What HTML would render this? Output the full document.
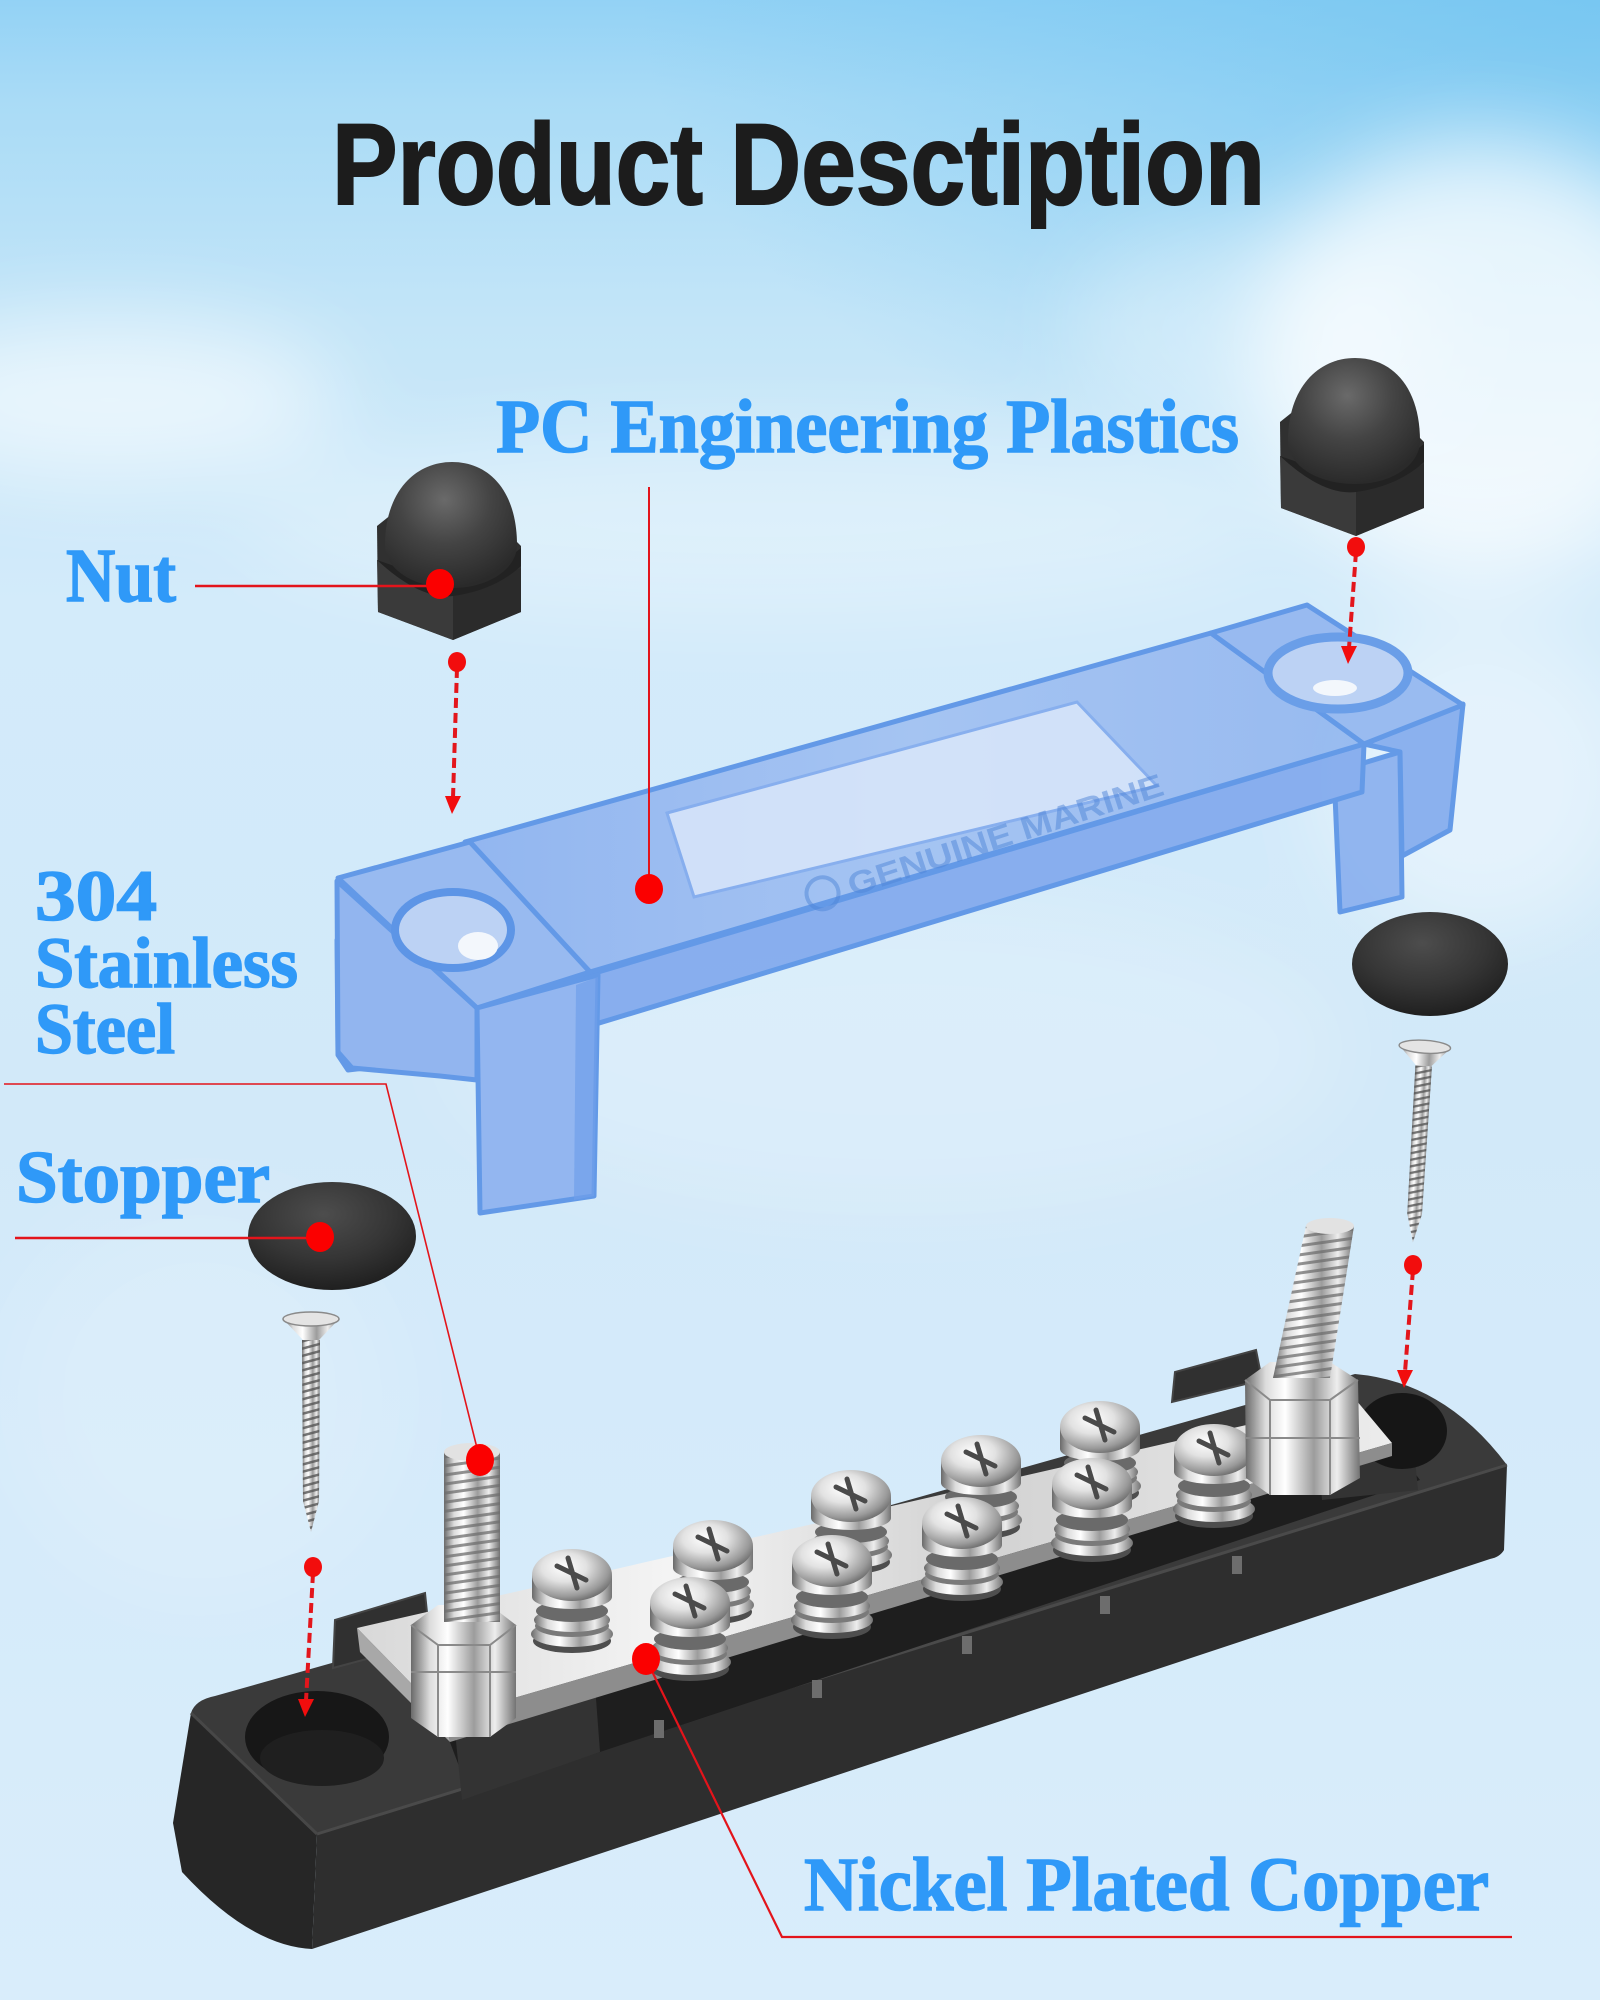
<!DOCTYPE html>
<html>
<head>
<meta charset="utf-8">
<style>
html,body{margin:0;padding:0;background:#d6ebfa;}
svg{display:block;}
.lbl{font-family:"Liberation Serif",serif;font-weight:bold;fill:#2f99f8;stroke:#2f99f8;stroke-width:1.5;}
</style>
</head>
<body>
<svg width="1600" height="2000" viewBox="0 0 1600 2000" xmlns="http://www.w3.org/2000/svg">
<defs>
  <linearGradient id="sky" x1="0" y1="0" x2="0" y2="1">
    <stop offset="0" stop-color="#93d2f5"/>
    <stop offset="0.05" stop-color="#a9dbf6"/>
    <stop offset="0.16" stop-color="#c3e5f8"/>
    <stop offset="0.3" stop-color="#d3ebfa"/>
    <stop offset="0.55" stop-color="#d2e9f9"/>
    <stop offset="1" stop-color="#d9edfb"/>
  </linearGradient>
  <radialGradient id="trsky" cx="1" cy="0" r="0.6">
    <stop offset="0" stop-color="#6cc2f0" stop-opacity="0.7"/>
    <stop offset="1" stop-color="#6cc2f0" stop-opacity="0"/>
  </radialGradient>
  <filter id="blur" x="-50%" y="-50%" width="200%" height="200%"><feGaussianBlur stdDeviation="45"/></filter>
  <radialGradient id="domeN" cx="0.45" cy="0.3" r="0.7">
    <stop offset="0" stop-color="#6a6a6a"/>
    <stop offset="0.5" stop-color="#444"/>
    <stop offset="1" stop-color="#2a2a2a"/>
  </radialGradient>
  <radialGradient id="stopG" cx="0.45" cy="0.3" r="0.75">
    <stop offset="0" stop-color="#4d4d4d"/>
    <stop offset="0.55" stop-color="#353535"/>
    <stop offset="1" stop-color="#1c1c1c"/>
  </radialGradient>
  <linearGradient id="silverH" x1="0" y1="0" x2="1" y2="0">
    <stop offset="0" stop-color="#6a6a6a"/>
    <stop offset="0.18" stop-color="#dcdcdc"/>
    <stop offset="0.35" stop-color="#ffffff"/>
    <stop offset="0.6" stop-color="#9c9c9c"/>
    <stop offset="0.8" stop-color="#eeeeee"/>
    <stop offset="1" stop-color="#737373"/>
  </linearGradient>
  <radialGradient id="domeS" cx="0.4" cy="0.35" r="0.7">
    <stop offset="0" stop-color="#ffffff"/>
    <stop offset="0.4" stop-color="#e2e2e2"/>
    <stop offset="0.8" stop-color="#9a9a9a"/>
    <stop offset="1" stop-color="#676767"/>
  </radialGradient>
  <linearGradient id="barG" x1="0" y1="0" x2="1" y2="0">
    <stop offset="0" stop-color="#d8d8d8"/>
    <stop offset="0.3" stop-color="#f4f4f4"/>
    <stop offset="0.6" stop-color="#d2d2d2"/>
    <stop offset="1" stop-color="#ececec"/>
  </linearGradient>
  <linearGradient id="topB" x1="0" y1="0" x2="1" y2="0">
    <stop offset="0" stop-color="#8fb4f0"/>
    <stop offset="0.5" stop-color="#a3c2f2"/>
    <stop offset="1" stop-color="#94b8f0"/>
  </linearGradient>
  <pattern id="thr" width="12" height="9" patternUnits="userSpaceOnUse" patternTransform="rotate(-8)">
    <rect y="0" width="12" height="3" fill="#6d6d6d" opacity="0.75"/>
  </pattern>
  <pattern id="thr2" width="10" height="7" patternUnits="userSpaceOnUse" patternTransform="rotate(-15)">
    <rect y="0" width="10" height="2.5" fill="#555" opacity="0.8"/>
  </pattern>
  <g id="ts">
    <ellipse cx="0" cy="66" rx="39" ry="12" fill="#4e4e4e"/>
    <ellipse cx="0" cy="59" rx="41" ry="13" fill="url(#silverH)"/>
    <ellipse cx="0" cy="51" rx="37" ry="11" fill="#7a7a7a"/>
    <ellipse cx="0" cy="45" rx="38" ry="12" fill="url(#silverH)"/>
    <ellipse cx="0" cy="36" rx="36" ry="11" fill="#6a6a6a"/>
    <path d="M-40,0 L-40,22 A40,12 0 0 0 40,22 L40,0 Z" fill="url(#silverH)"/>
    <ellipse cx="0" cy="0" rx="40" ry="26" fill="url(#domeS)"/>
    <path d="M-15,-9 L14,5 M-4,-17 L5,13" stroke="#4a4a4a" stroke-width="5" stroke-linecap="round"/>
  </g>
  <g id="ws">
    <path d="M-28,3 Q0,-4 28,3 L8,24 L-8,24 Z" fill="url(#silverH)"/>
    <ellipse cx="0" cy="3" rx="28" ry="7" fill="#e4e4e4" stroke="#8a8a8a" stroke-width="1.5"/>
    <path d="M-9,24 L9,24 L8,185 L0,216 L-8,185 Z" fill="url(#silverH)"/>
    <path d="M-9,24 L9,24 L8,185 L0,216 L-8,185 Z" fill="url(#thr2)"/>
  </g>
  <g id="acorn">
    <path d="M377,526 L392,514 L505,530 L521,546 L521,612 L453,640 L378,612 Z" fill="#303030"/>
    <path d="M453,596 L453,640 L378,612 L377,560 Z" fill="#3a3a3a"/>
    <path d="M453,596 L521,568 L521,612 L453,640 Z" fill="#2b2b2b"/>
    <path d="M377,560 Q420,600 453,596 Q495,590 521,566 L521,548 Q470,590 420,575 Z" fill="#222"/>
    <path d="M385,545 C385,492 415,462 452,462 C490,462 517,492 517,545 C517,568 490,588 452,588 C415,588 385,570 385,545 Z" fill="url(#domeN)"/>
  </g>
</defs>

<!-- background -->
<rect width="1600" height="2000" fill="url(#sky)"/>
<rect width="1600" height="900" fill="url(#trsky)"/>
<g filter="url(#blur)" fill="#ffffff">
  <ellipse cx="1480" cy="360" rx="230" ry="220" opacity="0.75"/>
  <ellipse cx="1250" cy="330" rx="180" ry="110" opacity="0.35"/>
  <ellipse cx="110" cy="400" rx="230" ry="80" opacity="0.6"/>
  <ellipse cx="760" cy="520" rx="520" ry="90" opacity="0.3"/>
  <ellipse cx="1480" cy="780" rx="160" ry="160" opacity="0.4"/>
  <ellipse cx="900" cy="1050" rx="450" ry="160" opacity="0.2"/>
  <ellipse cx="200" cy="1400" rx="200" ry="200" opacity="0.15"/>
</g>

<!-- title -->
<text x="332" y="204" font-family="Liberation Sans, Arial, sans-serif" font-weight="bold" font-size="115" fill="#1c1c1c" stroke="#1c1c1c" stroke-width="2" textLength="933" lengthAdjust="spacingAndGlyphs">Product Desctiption</text>

<!-- nuts -->
<use href="#acorn"/>
<use href="#acorn" transform="translate(903,-104)"/>

<!-- blue cover -->
<g stroke="#5d95e6" stroke-width="5" stroke-linejoin="round" opacity="0.95">
  <path d="M337,940 L385,985 L382,1066 L348,1070 L338,1055 Z" fill="#9dbdf1"/>
  <path d="M337,881 L477,1008 L477,1080 L440,1076 L352,1068 L338,1052 Z" fill="#8fb3ef"/>
  <path d="M1334,772 L1400,752 L1402,897 L1340,912 Z" fill="#8db2ef"/>
  <path d="M1364,744 L1463,704 L1450,830 L1402,856 L1400,752 Z" fill="#86adee"/>
  <path d="M477,1008 L1364,744 L1362,792 L477,1060 Z" fill="#84abee"/>
  <path d="M465,842 L1211,633 L1364,744 L590,972 Z" fill="url(#topB)"/>
  <path d="M1211,633 L1307,605 L1463,705 L1364,744 Z" fill="#95b8f0"/>
  <path d="M338,878 L470,842 L590,972 L477,1008 Z" fill="#95b8f0"/>
  <path d="M477,1008 L598,975 L594,1196 L480,1213 Z" fill="#90b4f0"/>
</g>
<path d="M576,985 L598,977 L594,1196 L574,1200 Z" fill="#6f9eea" opacity="0.7"/>
<!-- panel -->
<path d="M667,813 L1077,702 L1157,786 L694,897 Z" fill="#e0ebfb" opacity="0.75" stroke="#7ea8ec" stroke-width="3"/>
<!-- holes -->
<ellipse cx="453" cy="930" rx="58" ry="38" fill="#bcd2f4" stroke="#5d95e6" stroke-width="8"/>
<ellipse cx="478" cy="946" rx="20" ry="14" fill="#f3f7fc"/>
<ellipse cx="1338" cy="673" rx="70" ry="36" fill="#bcd2f4" stroke="#6a9ee8" stroke-width="9"/>
<ellipse cx="1335" cy="688" rx="22" ry="8" fill="#f3f7fc"/>
<!-- logo -->
<g opacity="0.5" transform="rotate(-18 850 897)">
  <circle cx="825" cy="885" r="16" fill="none" stroke="#4f85d8" stroke-width="4"/>
  <text x="852" y="897" font-family="Liberation Sans, Arial, sans-serif" font-weight="bold" font-size="32" fill="#4f85d8" textLength="330" lengthAdjust="spacingAndGlyphs">GENUINE MARINE</text>
</g>

<!-- stoppers -->
<ellipse cx="332" cy="1236" rx="84" ry="54" fill="url(#stopG)"/>
<ellipse cx="1430" cy="964" rx="78" ry="52" fill="url(#stopG)"/>

<!-- wood screws -->
<use href="#ws" transform="translate(311,1316)"/>
<use href="#ws" transform="translate(1425,1044) rotate(3.5) scale(0.92)"/>

<!-- base -->
<path d="M191,1713 L317,1834 L312,1949 Q250,1946 182,1872 L173,1823 Z" fill="#262626"/>
<path d="M317,1834 L1507,1465 L1504,1550 Q1500,1557 1490,1559 L312,1949 Z" fill="#2e2e2e"/>
<path d="M191,1713 Q195,1700 215,1696 L1355,1374 Q1445,1382 1507,1465 L317,1834 Z" fill="#3a3a3a"/>
<path d="M317,1834 L1507,1465" stroke="#4a4a4a" stroke-width="3"/>
<path d="M191,1713 L317,1834" stroke="#474747" stroke-width="3"/>
<path d="M440,1716 L1392,1443 L1420,1480 L600,1752 L470,1795 Z" fill="#1e1e1e"/>
<path d="M453,1712 L594,1672 L600,1752 L462,1800 Z" fill="#333"/>
<path d="M1318,1452 L1412,1430 L1418,1490 L1322,1500 Z" fill="#333"/>
<path d="M333,1668 L335,1620 L425,1593 L430,1642 Z" fill="#303030" stroke="#444" stroke-width="2"/>
<path d="M1172,1402 L1175,1372 L1256,1350 L1262,1380 Z" fill="#303030" stroke="#444" stroke-width="2"/>
<ellipse cx="317" cy="1737" rx="72" ry="46" fill="#171717"/>
<ellipse cx="322" cy="1758" rx="62" ry="28" fill="#1f1f1f"/>
<ellipse cx="1402" cy="1431" rx="45" ry="38" fill="#161616"/>

<!-- copper bar -->
<path d="M357,1628 L1356,1400 L1392,1443 L445,1718 Z" fill="url(#barG)"/>
<path d="M445,1718 L1392,1443 L1392,1456 L450,1742 Z" fill="#8d8d8d"/>
<path d="M357,1628 L445,1718 L450,1742 L360,1652 Z" fill="#a8a8a8"/>
<g fill="#6d6d6d">
  <rect x="654" y="1720" width="10" height="18"/>
  <rect x="812" y="1680" width="10" height="18"/>
  <rect x="962" y="1636" width="10" height="18"/>
  <rect x="1100" y="1596" width="10" height="18"/>
  <rect x="1232" y="1556" width="10" height="18"/>
</g>

<!-- terminal screws -->
<use href="#ts" transform="translate(1100,1427)"/>
<use href="#ts" transform="translate(1214,1450)"/>
<use href="#ts" transform="translate(981,1461)"/>
<use href="#ts" transform="translate(1092,1484)"/>
<use href="#ts" transform="translate(851,1496)"/>
<use href="#ts" transform="translate(962,1523)"/>
<use href="#ts" transform="translate(713,1546)"/>
<use href="#ts" transform="translate(832,1561)"/>
<use href="#ts" transform="translate(572,1575)"/>
<use href="#ts" transform="translate(690,1603)"/>

<!-- left stud -->
<path d="M411,1625 L438,1605 L490,1605 L516,1625 L516,1718 L490,1737 L438,1737 L411,1718 Z" fill="url(#silverH)"/>
<path d="M411,1625 L438,1645 L490,1645 L516,1625 M438,1645 L438,1737 M490,1645 L490,1737 M411,1672 L516,1672" stroke="#8a8a8a" stroke-width="2" fill="none"/>
<rect x="444" y="1452" width="56" height="170" fill="url(#silverH)"/>
<rect x="444" y="1452" width="56" height="170" fill="url(#thr)"/>
<ellipse cx="472" cy="1452" rx="28" ry="9" fill="#e2e2e2"/>

<!-- right stud -->
<path d="M1245,1380 L1270,1362 L1330,1362 L1358,1380 L1360,1478 L1330,1495 L1270,1495 L1246,1478 Z" fill="url(#silverH)"/>
<path d="M1245,1380 L1270,1400 L1330,1400 L1358,1380 M1270,1400 L1270,1495 M1330,1400 L1330,1495 M1246,1438 L1360,1438" stroke="#8a8a8a" stroke-width="2" fill="none"/>
<path d="M1306,1226 L1354,1226 L1330,1378 L1273,1378 Z" fill="url(#silverH)"/>
<path d="M1306,1226 L1354,1226 L1330,1378 L1273,1378 Z" fill="url(#thr)"/>
<ellipse cx="1330" cy="1226" rx="24" ry="8" fill="#e2e2e2"/>

<!-- dashed arrows -->
<g stroke="#e3161c" stroke-width="4" stroke-dasharray="10 5" fill="none">
  <path d="M457,668 L453,798"/>
  <path d="M1356,552 L1349,648"/>
  <path d="M1413,1270 L1405,1372"/>
  <path d="M313,1573 L306,1701"/>
</g>
<g fill="#f20d0d">
  <ellipse cx="457" cy="662" rx="9" ry="10"/>
  <ellipse cx="1356" cy="547" rx="9" ry="10"/>
  <ellipse cx="1413" cy="1265" rx="9" ry="10"/>
  <ellipse cx="313" cy="1567" rx="9" ry="10"/>
  <path d="M445,796 L461,796 L452,814 Z"/>
  <path d="M1341,646 L1357,646 L1348,664 Z"/>
  <path d="M1397,1370 L1413,1370 L1404,1388 Z"/>
  <path d="M298,1699 L314,1699 L305,1717 Z"/>
</g>

<!-- connector lines -->
<g stroke="#e3141b" fill="none">
  <path d="M195,586 L440,586" stroke-width="2.5"/>
  <path d="M649,487 L649,889" stroke-width="2"/>
  <path d="M4,1084 L386,1084 L480,1460" stroke-width="1.6"/>
  <path d="M15,1238 L320,1238" stroke-width="2.5"/>
  <path d="M646,1659 L782,1937 L1512,1937" stroke-width="2.2"/>
</g>
<g fill="#fb0000">
  <ellipse cx="440" cy="584" rx="14" ry="15"/>
  <ellipse cx="649" cy="889" rx="14" ry="15"/>
  <ellipse cx="480" cy="1460" rx="14" ry="16"/>
  <ellipse cx="320" cy="1237" rx="14" ry="15"/>
  <ellipse cx="646" cy="1659" rx="14" ry="16"/>
</g>

<!-- labels -->
<text class="lbl" x="496" y="452" font-size="76" textLength="743" lengthAdjust="spacingAndGlyphs">PC Engineering Plastics</text>
<text class="lbl" x="66" y="601" font-size="76" textLength="110" lengthAdjust="spacingAndGlyphs">Nut</text>
<text class="lbl" x="35" y="920" font-size="72" textLength="122" lengthAdjust="spacingAndGlyphs">304</text>
<text class="lbl" x="35" y="987" font-size="72" textLength="263" lengthAdjust="spacingAndGlyphs">Stainless</text>
<text class="lbl" x="35" y="1053" font-size="72" textLength="140" lengthAdjust="spacingAndGlyphs">Steel</text>
<text class="lbl" x="16" y="1202" font-size="74" textLength="254" lengthAdjust="spacingAndGlyphs">Stopper</text>
<text class="lbl" x="804" y="1910" font-size="76" textLength="685" lengthAdjust="spacingAndGlyphs">Nickel Plated Copper</text>
</svg>
</body>
</html>
